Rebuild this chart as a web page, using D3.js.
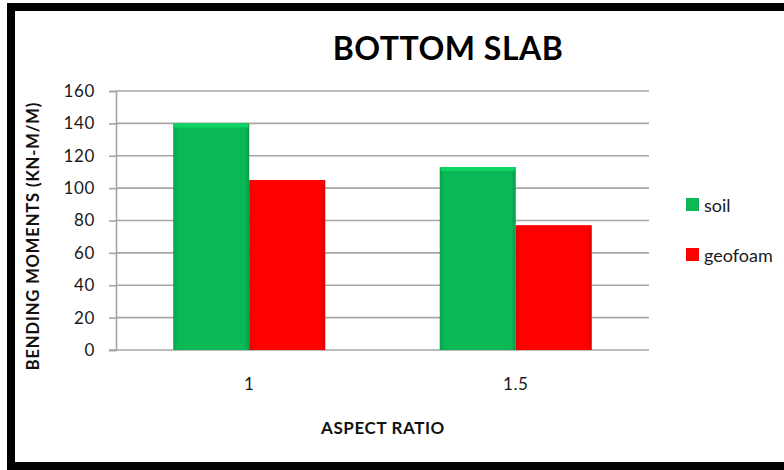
<!DOCTYPE html>
<html>
<head>
<meta charset="utf-8">
<script src="https://cdn.jsdelivr.net/npm/d3@7"></script>
<style>
  body { margin: 0; background: #fff; }
  text { font-family: Lato, "Open Sans", sans-serif; }
</style>
</head>
<body>
<div id="chart"></div>
<script>
// data
const categories = ["1", "1.5"];
const seriesNames = ["soil", "geofoam"];
const soilValues = [140, 113];
const geofoamValues = [105, 77];
const yTicks = [0, 20, 40, 60, 80, 100, 120, 140, 160];
const seriesColors = ["#0bb856", "#ff0000"];

const W = 784, H = 470;
const margin = { top: 91, right: 135, bottom: 120, left: 116 };
const width = W - margin.left - margin.right;
const height = H - margin.top - margin.bottom;

const svg = d3.select("#chart").append("svg")
    .attr("width", W)
    .attr("height", H);

// frame
svg.append("rect").attr("x", 7).attr("y", 3).attr("width", W).attr("height", 8).attr("fill", "#000");
svg.append("rect").attr("x", 7).attr("y", 3).attr("width", 8).attr("height", H).attr("fill", "#000");
svg.append("rect").attr("x", 7).attr("y", 462).attr("width", W).attr("height", 8).attr("fill", "#000");

const defs = svg.append("defs");
seriesColors.forEach(function(c, i) {
    let g = defs.append("linearGradient").attr("id", "grad" + i)
        .attr("x1", 0).attr("x2", 1).attr("y1", 0).attr("y2", 0);
    g.append("stop").attr("offset", "0%").attr("stop-color", d3.color(c).darker(0.4));
    g.append("stop").attr("offset", "6%").attr("stop-color", c);
    g.append("stop").attr("offset", "94%").attr("stop-color", c);
    g.append("stop").attr("offset", "100%").attr("stop-color", d3.color(c).darker(0.5));
});

const chart = svg.append("g")
    .attr("transform", "translate(" + margin.left + "," + margin.top + ")");

const y = d3.scaleLinear().domain([0, 160]).range([height, 0]);
const x0 = d3.scaleBand().domain(categories).range([0, width]).padding(0);
const x1 = d3.scaleBand().domain(seriesNames).range([0, x0.bandwidth()])
    .paddingInner(0).paddingOuter(0.753);

// gridlines
chart.append("g")
    .selectAll("line")
    .data(yTicks.filter(d => d > 0))
    .enter().append("line")
    .attr("x1", 0).attr("x2", width)
    .attr("y1", d => y(d)).attr("y2", d => y(d))
    .attr("stroke", "#a6a6a6").attr("stroke-width", 1.6);

// y axis
const yAxis = chart.append("g")
    .call(d3.axisLeft(y).tickValues(yTicks).tickSize(7).tickPadding(14));
yAxis.select(".domain").attr("stroke", "#a6a6a6").attr("stroke-width", 1.6);
yAxis.selectAll(".tick line").attr("stroke", "#a6a6a6").attr("stroke-width", 1.6);
yAxis.selectAll(".tick text")
    .attr("font-size", 17).attr("fill", "#1a1a1a")
    .attr("letter-spacing", 0.6)
    .style("font-family", "Lato, 'Open Sans', sans-serif");

// x axis
const xAxis = chart.append("g")
    .attr("transform", "translate(0," + height + ")")
    .call(d3.axisBottom(x0).tickSize(0).tickPadding(28));
xAxis.select(".domain").attr("stroke", "#a6a6a6").attr("stroke-width", 1.6)
    .attr("d", "M-7,0H" + width);
xAxis.selectAll(".tick text")
    .attr("font-size", 17).attr("fill", "#1a1a1a")
    .attr("letter-spacing", 0.6)
    .style("font-family", "Lato, 'Open Sans', sans-serif");

// bars
const rows = categories.map((c, i) => ({ cat: c, values: [soilValues[i], geofoamValues[i]] }));

const groups = chart.selectAll(".grp")
    .data(rows)
    .enter().append("g")
    .attr("class", "grp")
    .attr("transform", d => "translate(" + x0(d.cat) + ",0)");

groups.selectAll("rect.bar")
    .data(d => d.values.map((v, i) => ({ name: seriesNames[i], value: v, idx: i })))
    .enter().append("rect")
    .attr("class", "bar")
    .attr("x", d => x1(d.name))
    .attr("y", d => y(d.value))
    .attr("width", x1.bandwidth())
    .attr("height", d => height - y(d.value))
    .attr("fill", d => "url(#grad" + d.idx + ")");

// bevel highlight on top edge
groups.selectAll("rect.hl")
    .data(d => d.values.map((v, i) => ({ name: seriesNames[i], value: v, idx: i })))
    .enter().append("rect")
    .attr("class", "hl")
    .attr("x", d => x1(d.name) + 1)
    .attr("y", d => y(d.value))
    .attr("width", x1.bandwidth() - 2)
    .attr("height", 4)
    .attr("fill", d => d3.color(seriesColors[d.idx]).brighter(0.4));

// title
svg.append("text")
    .attr("x", 448).attr("y", 60)
    .attr("text-anchor", "middle")
    .attr("font-size", 32).attr("font-weight", "bold")
    .attr("letter-spacing", 0.5)
    .attr("fill", "#000")
    .text("BOTTOM SLAB");

// axis titles
svg.append("text")
    .attr("x", 383).attr("y", 434)
    .attr("text-anchor", "middle")
    .attr("font-size", 17).attr("font-weight", "bold")
    .attr("letter-spacing", 0.6)
    .attr("fill", "#111")
    .text("ASPECT RATIO");

svg.append("text")
    .attr("transform", "translate(39,236) rotate(-90)")
    .attr("text-anchor", "middle")
    .attr("font-size", 16.5).attr("font-weight", "bold")
    .attr("letter-spacing", 0.9)
    .attr("fill", "#111")
    .text("BENDING MOMENTS  (KN-M/M)");

// legend
const legend = svg.append("g").attr("transform", "translate(686,198)");
const items = legend.selectAll("g")
    .data(seriesNames)
    .enter().append("g")
    .attr("transform", (d, i) => "translate(0," + i * 50 + ")");
items.append("rect")
    .attr("width", 13).attr("height", 13)
    .attr("fill", (d, i) => "url(#grad" + i + ")");
items.append("text")
    .attr("x", 18).attr("y", 14)
    .attr("font-size", 18).attr("fill", "#1a1a1a")
    .text(d => d);
</script>
</body>
</html>
